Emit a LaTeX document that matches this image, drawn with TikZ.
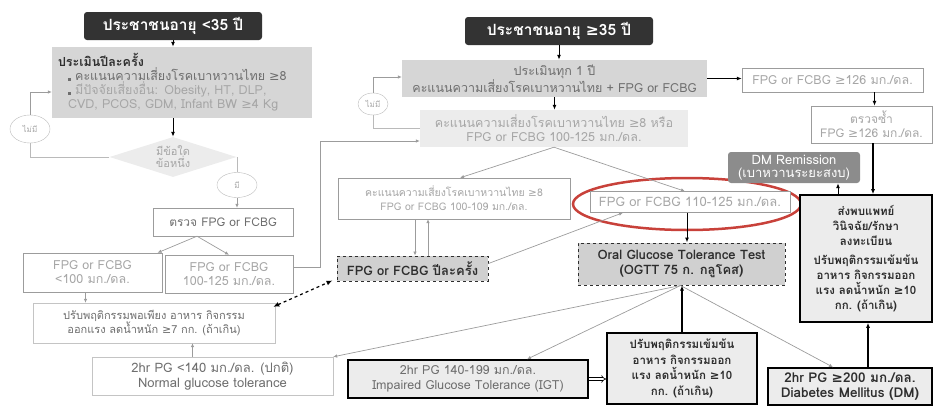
\documentclass[tikz,border=0pt]{standalone}
\usepackage{fontspec}
\setmainfont{Loma}[Script=Thai]
\newfontfamily\symfont{DejaVu Sans}
\newcommand\gesym{{\symfont\char"2265}}
\usetikzlibrary{shapes.geometric,arrows.meta}
\definecolor{titlegray}{HTML}{333333}
\definecolor{boxfill}{HTML}{D6D6D6}
\definecolor{lightfill}{HTML}{ECECEC}
\definecolor{dashfill}{HTML}{D0D0D0}
\definecolor{remfill}{HTML}{8C8C8C}
\definecolor{faint}{HTML}{A6A6A6}
\definecolor{midtext}{HTML}{6E6E6E}
\definecolor{darktext}{HTML}{2E2E2E}
\definecolor{lineg}{HTML}{9C9C9C}
\definecolor{ringred}{HTML}{C8413A}
\tikzset{
  box/.style={draw=lineg,fill=white,text=faint,align=center,inner sep=1pt,font=\fontsize{12.5}{14}\selectfont},
  greybox/.style={box,draw=none,fill=boxfill,text=midtext},
  dashbox/.style={box,draw=darktext,dashed,line width=1pt,fill=dashfill,text=darktext,font=\fontsize{13}{15}\bfseries},
  darkbox/.style={box,draw=black,line width=1.6pt,fill=lightfill,text=darktext},
  title/.style={draw=none,fill=titlegray,rounded corners=3pt,text=white,font=\fontsize{15.5}{18}\bfseries},
  circ/.style={ellipse,draw=lineg!70,text=faint,inner sep=0pt,font=\fontsize{8}{9}\selectfont},
  arr/.style={-{Latex[length=5pt,width=4pt]},line width=1pt,black},
  garr/.style={-{Latex[length=4pt,width=3.5pt]},lineg,line width=0.7pt},
  gline/.style={lineg!70,line width=0.7pt},
  dasharr/.style={{Latex[length=6pt,width=5pt]}-{Latex[length=6pt,width=5pt]},dashed,line width=1.2pt,black}
}
\begin{document}
\begin{tikzpicture}[x=1pt,y=-1pt]
  \useasboundingbox (0,0) rectangle (934,407);
  \node[title,minimum width=178pt,minimum height=28pt] (young) at (173,26) {ประชาชนอายุ <35 ปี};
  \node[greybox,minimum width=260pt,minimum height=71pt,text width=248pt,align=left] (yearly) at (182,82.5) {%
    {\color{darktext}\bfseries ประเมินปีละครั้ง}\\
    \hspace*{10pt}\rule{3pt}{3pt} {\color{midtext}คะแนนความเสี่ยงโรคเบาหวานไทย \gesym8}\\
    \hspace*{10pt}\rule{3pt}{3pt} {\color{faint}มีปัจจัยเสี่ยงอื่น: Obesity, HT, DLP,}\\
    \hspace*{10pt}{\color{faint}CVD, PCOS, GDM, Infant BW \gesym4 Kg}};
  \node[circ,minimum width=40pt,minimum height=28pt] (noA) at (30,129) {ไม่มี};
  \node[diamond,aspect=3,fill=lightfill,text=faint,inner sep=0pt,minimum width=127pt,minimum height=40pt,align=center,font=\fontsize{11}{12}\selectfont] (anyrisk) at (173,157) {มีข้อใด\\ข้อหนึ่ง};
  \node[circ,minimum width=40pt,minimum height=25pt] (yesA) at (237,185) {มี};
  \node[box,text=midtext,minimum width=140pt,minimum height=28pt,font=\fontsize{12}{14}\selectfont] (check) at (223,222) {ตรวจ FPG or FCBG};
  \node[box,minimum width=139pt,minimum height=39pt] (low) at (92.5,272.5) {FPG or FCBG\\<100 มก./ดล.};
  \node[box,minimum width=128pt,minimum height=38pt] (pre) at (229,274) {FPG or FCBG\\100-125 มก./ดล.};
  \node[box,draw=lineg!60,text=midtext,minimum width=242pt,minimum height=40pt,font=\fontsize{11}{14}\selectfont] (lifeA) at (154,323) {ปรับพฤติกรรมพอเพียง อาหาร กิจกรรม\\ออกแรง ลดน้ำหนัก \gesym7 กก. (ถ้าเกิน)};
  \node[box,draw=lineg!60,text=midtext,minimum width=241pt,minimum height=38pt,font=\fontsize{13}{15}\selectfont] (normal) at (212.5,376) {2hr PG <140 มก./ดล. (ปกติ)\\Normal glucose tolerance};

  \node[title,minimum width=188pt,minimum height=28pt] (old) at (559,31) {ประชาชนอายุ \gesym35 ปี};
  \node[greybox,minimum width=305pt,minimum height=37pt] (yearlyB) at (554.5,78.5) {ประเมินทุก 1 ปี\\คะแนนความเสี่ยงโรคเบาหวานไทย + FPG or FCBG};
  \node[box,minimum width=181pt,minimum height=24pt] (high) at (832.5,80) {FPG or FCBG \gesym126 มก./ดล.};
  \node[box,minimum width=121pt,minimum height=37pt,font=\fontsize{12}{14}\selectfont] (recheck) at (871.5,124.5) {ตรวจซ้ำ\\FPG \gesym126 มก./ดล.};
  \node[circ,minimum width=30pt,minimum height=22pt] (noB) at (373,104) {ไม่มี};
  \node[box,draw=none,fill=lightfill,text=faint,minimum width=268pt,minimum height=37pt] (risk) at (554,128.5) {คะแนนความเสี่ยงโรคเบาหวานไทย \gesym8 หรือ\\FPG or FCBG 100-125 มก./ดล.};
  \node[box,minimum width=232pt,minimum height=41pt,font=\fontsize{10.5}{14}\selectfont] (lowrisk) at (454,198.5) {คะแนนความเสี่ยงโรคเบาหวานไทย \gesym8\\FPG or FCBG 100-109 มก./ดล.};
  \node[ellipse,draw=ringred,line width=2.5pt,minimum width=228pt,minimum height=52pt] (focus) at (687,204) {};
  \node[box,minimum width=200pt,minimum height=21pt,font=\fontsize{13}{14}\selectfont] (midrisk) at (690,202) {FPG or FCBG 110-125 มก./ดล.};
  \node[dashbox,minimum width=151pt,minimum height=25pt] (biyear) at (412.5,268.5) {FPG or FCBG ปีละครั้ง};
  \node[dashbox,minimum width=207pt,minimum height=42pt] (ogtt) at (681.5,264) {Oral Glucose Tolerance Test\\(OGTT 75 ก. กลูโคส)};
  \node[box,draw=none,fill=remfill,rounded corners=3pt,text=white,minimum width=132pt,minimum height=31pt,font=\fontsize{13}{13.5}\selectfont] (remis) at (794,167.5) {DM Remission\\(เบาหวานระยะสงบ)};
  \node[darkbox,minimum width=132pt,minimum height=127pt,font=\fontsize{11.5}{15}\bfseries] (refer) at (866,258.5) {ส่งพบแพทย์\\วินิจฉัย/รักษา\\ลงทะเบียน\\[4pt]ปรับพฤติกรรมเข้มข้น\\อาหาร กิจกรรมออก\\แรง ลดน้ำหนัก \gesym10\\กก. (ถ้าเกิน)};
  \node[darkbox,minimum width=240pt,minimum height=38pt,text=midtext,font=\fontsize{12.5}{15}\selectfont] (igt) at (468,379) {2hr PG 140-199 มก./ดล.\\Impaired Glucose Tolerance (IGT)};
  \node[darkbox,minimum width=150pt,minimum height=71pt,font=\fontsize{11.5}{15.5}\bfseries] (strict) at (682,368.5) {ปรับพฤติกรรมเข้มข้น\\อาหาร กิจกรรมออก\\แรง ลดน้ำหนัก \gesym10\\กก. (ถ้าเกิน)};
  \node[darkbox,minimum width=164pt,minimum height=37pt,font=\fontsize{13.5}{15.5}\bfseries] (dm) at (850,386.5) {2hr PG \gesym200 มก./ดล.\\Diabetes Mellitus (DM)};

  \draw[arr] (young.south) -- (young.south |- yearly.north);
  \draw[arr] (anyrisk.north |- yearly.south) -- (anyrisk.north);
  \draw[gline] (anyrisk.west) -| (noA.south);
  \draw[garr] (noA.north) |- ([yshift=-9.5pt]yearly.west);
  \draw[gline] (anyrisk.east) -| (yesA.north);
  \draw[garr] (yesA.south) -- (yesA.south |- check.north);
  \draw[garr] ([xshift=-26pt]check.south) -- ([xshift=65pt]low.north);
  \draw[garr] ([xshift=-26pt]check.south) -- (pre.north);
  \draw[garr] ([xshift=-7pt]low.south) -- ([xshift=-7pt]low.south |- lifeA.north);
  \draw[garr] ([xshift=-20pt]normal.north) -- ([xshift=-20pt]normal.north |- lifeA.south);
  \draw[garr] ([yshift=7pt]pre.east) -- ++(27,0) |- ([yshift=-12.5pt]risk.west);
  \draw[dasharr] ([xshift=-2pt,yshift=-4pt]lifeA.north east) -- ([xshift=-4pt,yshift=1pt]biyear.south west);

  \draw[arr] (old.south) -- (old.south |- yearlyB.north);
  \draw[arr] (yearlyB.east) -- (yearlyB.east -| high.west);
  \draw[arr] ([xshift=3pt]recheck.north |- high.south) -- ([xshift=3pt]recheck.north);
  \draw[arr] (yearlyB.south) -- (yearlyB.south |- risk.north);
  \draw[gline] (risk.west) -| (noB.south);
  \draw[garr] (noB.north) |- ([yshift=1.5pt]yearlyB.west);
  \draw[garr] (risk.south) -- ([xshift=6pt]lowrisk.north);
  \draw[garr] (risk.south) -- ([xshift=-5pt]midrisk.north);
  \draw[garr] ([xshift=-39pt]lowrisk.south) -- ([xshift=-39pt]lowrisk.south |- biyear.north);
  \draw[garr] ([xshift=-26pt]lowrisk.south |- biyear.north) -- ([xshift=-26pt]lowrisk.south);
  \draw[garr] ([yshift=5pt]biyear.east) -- ([xshift=-67pt]midrisk.south);
  \draw[arr] ([xshift=-3pt]midrisk.south) -- ([xshift=-3pt]midrisk.south |- ogtt.north);
  \draw[garr] ([xshift=-1pt]ogtt.south) -- (normal.north east);
  \draw[garr] ([xshift=-1pt]ogtt.south) -- ([xshift=59pt]igt.north);
  \draw[garr] ([xshift=-1pt]ogtt.south) -- ([xshift=-17pt]dm.north);
  \draw[arr,line width=1.6pt] (strict.north) -- (strict.north |- ogtt.south);
  \draw[double,double distance=2pt,line width=0.6pt,-{Implies}] (igt.east) -- (igt.east -| strict.west);
  \draw[arr,line width=1.6pt] ([xshift=18pt]dm.north) -- ([xshift=18pt]dm.north |- refer.south);
  \draw[arr,line width=1.6pt] ([xshift=1.5pt]recheck.south) -- ([xshift=1.5pt]recheck.south |- refer.north);
  \draw[arr] ([xshift=-28pt]refer.north) -- ([xshift=-28pt]refer.north |- remis.south);
\end{tikzpicture}
\end{document}
